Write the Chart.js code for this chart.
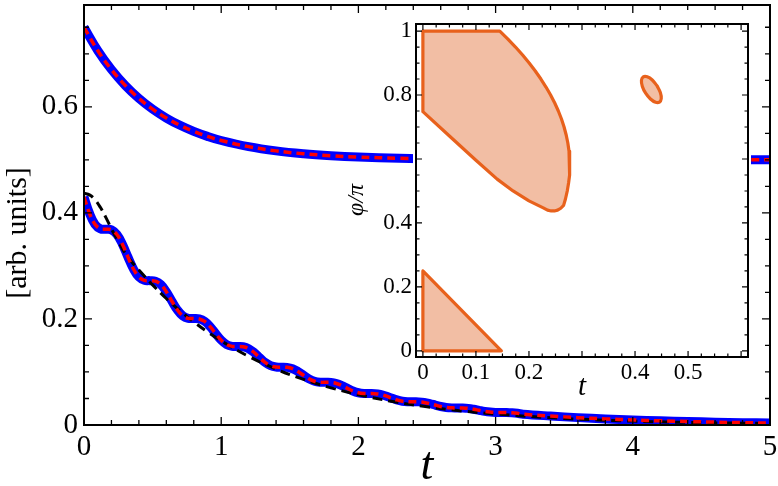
<!DOCTYPE html>
<html><head><meta charset="utf-8">
<script src="https://cdn.jsdelivr.net/npm/chart.js@4.4.0/dist/chart.umd.min.js"></script>
<style>
html,body{margin:0;padding:0;background:#fff;}
#wrap{position:relative;width:778px;height:486px;overflow:hidden;background:#fff;}
canvas{position:absolute;}
</style>
</head><body>
<div id="wrap">
<canvas id="main" width="778" height="486" style="left:0;top:0;width:778px;height:486px"></canvas>
<canvas id="inset" width="438" height="410" style="left:340px;top:0;width:438px;height:410px"></canvas>
</div>
<script>
// ---------- main panel data ----------
const tUpper = [0,0.1,0.2,0.3,0.4,0.5,0.6,0.7,0.8,0.9,1,1.2,1.4,1.6,1.8,2,2.3,2.6,3,3.5,4,4.5,5];
const upperCurve = [0.75,0.7063,0.6702,0.6404,0.6159,0.5956,0.5789,0.5651,0.5537,0.5443,0.5365,0.5249,0.5169,0.5115,0.5078,0.5053,0.5030,0.5017,0.5008,0.5003,0.5001,0.5,0.5];

const tLower = [0,0.04,0.08,0.12,0.16,0.2,0.24,0.28,
  0.32,0.36,0.4,0.44,0.48,0.52,0.56,0.6,
  0.64,0.68,0.72,0.76,0.8,0.84,0.88,0.92,
  0.96,1,1.04,1.08,1.12,1.16,1.2,1.24,
  1.28,1.32,1.36,1.4,1.44,1.48,1.52,1.56,
  1.6,1.64,1.68,1.72,1.76,1.8,1.84,1.88,
  1.92,1.96,2,2.04,2.08,2.12,2.16,2.2,
  2.24,2.28,2.32,2.36,2.4,2.44,2.48,2.52,
  2.56,2.6,2.64,2.68,2.72,2.76,2.8,2.84,
  2.88,2.92,2.96,3,3.04,3.08,3.12,3.16,
  3.2,3.4,3.6,3.8,4,4.2,4.4,4.6,4.8,5];
const lowerCurve = [0.4300,0.3993,0.3785,0.3700,0.3692,0.3680,0.3592,0.3410,
  0.3170,0.2944,0.2791,0.2728,0.2722,0.2713,0.2649,0.2514,
  0.2338,0.2171,0.2058,0.2011,0.2007,0.2000,0.1953,0.1854,
  0.1723,0.1600,0.1517,0.1483,0.1480,0.1475,0.1440,0.1367,
  0.1271,0.1180,0.1119,0.1093,0.1091,0.1087,0.1062,0.1008,
  0.0937,0.0870,0.0825,0.0806,0.0804,0.0802,0.0783,0.0743,
  0.0691,0.0641,0.0608,0.0594,0.0593,0.0591,0.0577,0.0548,
  0.0509,0.0473,0.0448,0.0438,0.0437,0.0436,0.0426,0.0404,
  0.0376,0.0349,0.0331,0.0323,0.0322,0.0321,0.0314,0.0298,
  0.0277,0.0257,0.0244,0.0238,0.0238,0.0237,0.0231,0.0220,
  0.0204,0.0169,0.0139,0.0115,0.0095,0.0079,0.0065,0.0054,0.0044,0.0037];

const tDashed = [0,0.04,0.08,0.12,0.16,0.2,0.25,0.3,0.35,0.4,0.5,0.6,0.7,0.8,0.9,1,1.2,1.4,1.6,1.8,2,2.25,2.5,2.75,3,3.5,4,4.5,5];
const dashedCurve = [0.437,0.434,0.425,0.410,0.391,0.370,0.346,0.324,0.307,0.2925,0.2642,0.2385,0.2154,0.1945,0.1756,0.1586,0.1293,0.1054,0.0860,0.0701,0.0572,0.0443,0.0343,0.0266,0.0206,0.0124,0.0074,0.0045,0.0027];

const mainXTicks = [0,1,2,3,4,5];
const mainXLabels = ['0','1','2','3','4','5'];
const mainYTicks = [0,0.2,0.4,0.6];
const mainYLabels = ['0','0.2','0.4','0.6'];
const mainXMinor = [0.2,0.4,0.6,0.8,1.2,1.4,1.6,1.8,2.2,2.4,2.6,2.8,3.2,3.4,3.6,3.8,4.2,4.4,4.6,4.8];
const mainYMinor = [0.05,0.1,0.15,0.25,0.3,0.35,0.45,0.5,0.55,0.65,0.7,0.75];
const mainXTitle = 't';
const mainYTitle = '[arb. units]';

// ---------- inset data ----------
const regionA_t = [0,0.145,0.1603,0.1746,0.1880,0.2004,0.2119,0.2225,0.2321,0.2408,0.2486,0.2554,0.2613,0.2662,0.2702,0.2733,0.2755,0.2767,0.2770,0.2763,0.2747,0.2722,0.2688,0.2653,0.2600,0.2540,0.2480,0.2420,0.2350,0.2270,0.2000,0.1700,0.1400,0.1000,0.0500,0,0];
const regionA_phi = [1,1,0.975,0.950,0.925,0.900,0.875,0.850,0.825,0.800,0.775,0.750,0.725,0.700,0.675,0.650,0.625,0.600,0.575,0.550,0.525,0.500,0.475,0.455,0.446,0.440,0.4375,0.4375,0.440,0.447,0.469,0.500,0.537,0.596,0.672,0.748,1];
const regionB_t = [0.4415,0.4325,0.4230,0.4155,0.4121,0.4138,0.4200,0.4291,0.4387,0.4460,0.4494,0.4477,0.4415];
const regionB_phi = [0.8288,0.8469,0.8569,0.8566,0.8456,0.8269,0.8056,0.7875,0.7772,0.7778,0.7888,0.8075,0.8288];
const regionC_t = [0,0.148,0,0];
const regionC_phi = [0.25,0,0,0.25];

const insetXTicks = [0,0.1,0.2,0.4,0.5];
const insetXLabels = ['0','0.1','0.2','0.4','0.5'];
const insetYTicks = [0,0.2,0.4,0.8,1];
const insetYLabels = ['0','0.2','0.4','0.8','1'];
const insetXMajor = [0,0.1,0.2,0.3,0.4,0.5,0.6];
const insetXMinor = [0.025,0.05,0.075,0.125,0.15,0.175,0.225,0.25,0.275,0.325,0.35,0.375,0.425,0.45,0.475,0.525,0.55,0.575];
const insetYMajor = [0,0.2,0.4,0.6,0.8,1];
const insetYMinor = [0.05,0.1,0.15,0.25,0.3,0.35,0.45,0.5,0.55,0.65,0.7,0.75,0.85,0.9,0.95];
const insetXTitle = 't';
const insetYTitle = 'φ/π';

// ---------- helpers ----------
const SERIF = '"Liberation Serif", "Times New Roman", serif';
const BLUE = '#0000ff', RED = '#ff0000';
const STROKE = '#e8611c', FILL = '#f2bea4';
const pts = (xs, ys) => xs.map((x, i) => ({x: x, y: ys[i]}));

const frameTicks = {
  id: 'frameTicks',
  beforeDraw(chart, args, o) {
    if (!o.whiteBg) return;
    const a = chart.chartArea, ctx = chart.ctx;
    ctx.save(); ctx.fillStyle = '#fff';
    ctx.fillRect(a.left - 3, a.top - 3, a.width + 6, a.height + 6);
    ctx.restore();
  },
  afterDatasetsDraw(chart, args, o) {
    const {ctx, chartArea: a} = chart;
    const x = chart.scales.x, y = chart.scales.y;
    ctx.save();
    ctx.strokeStyle = '#000';
    ctx.lineWidth = o.tickWidth;
    ctx.beginPath();
    const xt = (vals, len) => vals.forEach(v => { const p = x.getPixelForValue(v);
      ctx.moveTo(p, a.bottom); ctx.lineTo(p, a.bottom - len);
      ctx.moveTo(p, a.top); ctx.lineTo(p, a.top + len); });
    const yt = (vals, len) => vals.forEach(v => { const p = y.getPixelForValue(v);
      ctx.moveTo(a.left, p); ctx.lineTo(a.left + len, p);
      ctx.moveTo(a.right, p); ctx.lineTo(a.right - len, p); });
    xt(o.xMajor, o.majorLen); xt(o.xMinor, o.minorLen);
    yt(o.yMajor, o.majorLen); yt(o.yMinor, o.minorLen);
    ctx.stroke();
    ctx.lineWidth = o.frameWidth;
    ctx.strokeRect(a.left, a.top, a.width, a.height);
    ctx.restore();
  }
};

const yTitlePlugin = {
  id: 'yTitle',
  afterDraw(chart, args, o) {
    const ctx = chart.ctx;
    ctx.save();
    ctx.font = o.font; ctx.fillStyle = '#000';
    ctx.textAlign = 'center'; ctx.textBaseline = 'alphabetic';
    ctx.translate(o.x, o.y); ctx.rotate(-Math.PI / 2);
    ctx.fillText(o.text, 0, 0);
    ctx.restore();
  }
};

const lineDs = (data, color, width, dash) => ({
  data: data, borderColor: color, borderWidth: width, borderDash: dash || [],
  pointRadius: 0, fill: false, tension: 0.4, borderCapStyle: 'butt', borderJoinStyle: 'round'
});

// ---------- main chart ----------
new Chart(document.getElementById('main'), {
  type: 'line',
  data: { datasets: [
    lineDs(pts(tUpper, upperCurve), RED, 3.5, [8, 5]),
    lineDs(pts(tLower, lowerCurve), RED, 3.5, [8, 5]),
    lineDs(pts(tDashed, dashedCurve), '#000', 3, [10, 6]),
    lineDs(pts(tUpper, upperCurve), BLUE, 9),
    lineDs(pts(tLower, lowerCurve), BLUE, 9)
  ]},
  options: {
    responsive: false, animation: false, events: [],
    layout: {padding: {top: 5, right: 8, left: 0, bottom: 0}},
    plugins: {
      legend: {display: false}, tooltip: {enabled: false},
      frameTicks: {xMajor: mainXTicks, xMinor: mainXMinor, yMajor: mainYTicks, yMinor: mainYMinor,
        majorLen: 8, minorLen: 5, tickWidth: 1.3, frameWidth: 2, whiteBg: false},
      yTitle: {text: mainYTitle, x: 26, y: 233, font: '30px ' + SERIF}
    },
    scales: {
      x: {type: 'linear', min: 0, max: 5,
        grid: {display: false, drawTicks: false}, border: {display: false},
        afterBuildTicks: s => { s.ticks = mainXTicks.map(v => ({value: v})); },
        afterFit: s => { s.height = 61; s.paddingLeft = 0; s.paddingRight = 0; },
        ticks: {autoSkip: false, maxRotation: 0, padding: 5, color: '#000',
          font: {family: SERIF, size: 29}, callback: (v, i) => mainXLabels[i]},
        title: {display: true, text: mainXTitle, color: '#000',
          font: {family: SERIF, size: 46, style: 'italic', lineHeight: 0.8}, padding: {top: 0, bottom: 1}}
      },
      y: {type: 'linear', min: 0, max: 0.792,
        grid: {display: false, drawTicks: false}, border: {display: false},
        afterBuildTicks: s => { s.ticks = mainYTicks.map(v => ({value: v})); },
        afterFit: s => { s.width = 84; s.paddingTop = 0; s.paddingBottom = 0; },
        ticks: {autoSkip: false, padding: 6, color: '#000',
          font: {family: SERIF, size: 29}, callback: (v, i) => mainYLabels[i]}
      }
    }
  },
  plugins: [frameTicks, yTitlePlugin]
});

// ---------- inset chart ----------
const polyDs = (data, tension) => ({
  data: data, borderColor: STROKE, backgroundColor: FILL, borderWidth: 3.2,
  pointRadius: 0, fill: 'shape', tension: tension, borderJoinStyle: 'round', borderCapStyle: 'round'
});

new Chart(document.getElementById('inset'), {
  type: 'line',
  data: { datasets: [
    polyDs(pts(regionA_t, regionA_phi), 0),
    polyDs(pts(regionB_t, regionB_phi), 0.4),
    polyDs(pts(regionC_t, regionC_phi), 0)
  ]},
  options: {
    responsive: false, animation: false, events: [],
    layout: {padding: {top: 24, right: 30, left: 0, bottom: 0}},
    plugins: {
      legend: {display: false}, tooltip: {enabled: false},
      frameTicks: {xMajor: insetXMajor, xMinor: insetXMinor, yMajor: insetYMajor, yMinor: insetYMinor,
        majorLen: 6, minorLen: 3.5, tickWidth: 1.2, frameWidth: 2, whiteBg: true},
      yTitle: {text: insetYTitle, x: 23, y: 200, font: 'italic 24px ' + SERIF}
    },
    scales: {
      x: {type: 'linear', min: -0.013, max: 0.613,
        grid: {display: false, drawTicks: false}, border: {display: false},
        afterBuildTicks: s => { s.ticks = insetXTicks.map(v => ({value: v})); },
        afterFit: s => { s.height = 53; s.paddingLeft = 0; s.paddingRight = 0; },
        ticks: {autoSkip: false, maxRotation: 0, padding: 2, color: '#000',
          font: {family: SERIF, size: 23}, callback: (v, i) => insetXLabels[i]},
        title: {display: true, text: insetXTitle, color: '#000',
          font: {family: SERIF, size: 29, style: 'italic', lineHeight: 0.8}, padding: {top: 0, bottom: 11}}
      },
      y: {type: 'linear', min: -0.019, max: 1.022,
        grid: {display: false, drawTicks: false}, border: {display: false},
        afterBuildTicks: s => { s.ticks = insetYTicks.map(v => ({value: v})); },
        afterFit: s => { s.width = 76; s.paddingTop = 0; s.paddingBottom = 0; },
        ticks: {autoSkip: false, padding: 4, color: '#000',
          font: {family: SERIF, size: 23}, callback: (v, i) => insetYLabels[i]}
      }
    }
  },
  plugins: [frameTicks, yTitlePlugin]
});
</script>
</body></html>
